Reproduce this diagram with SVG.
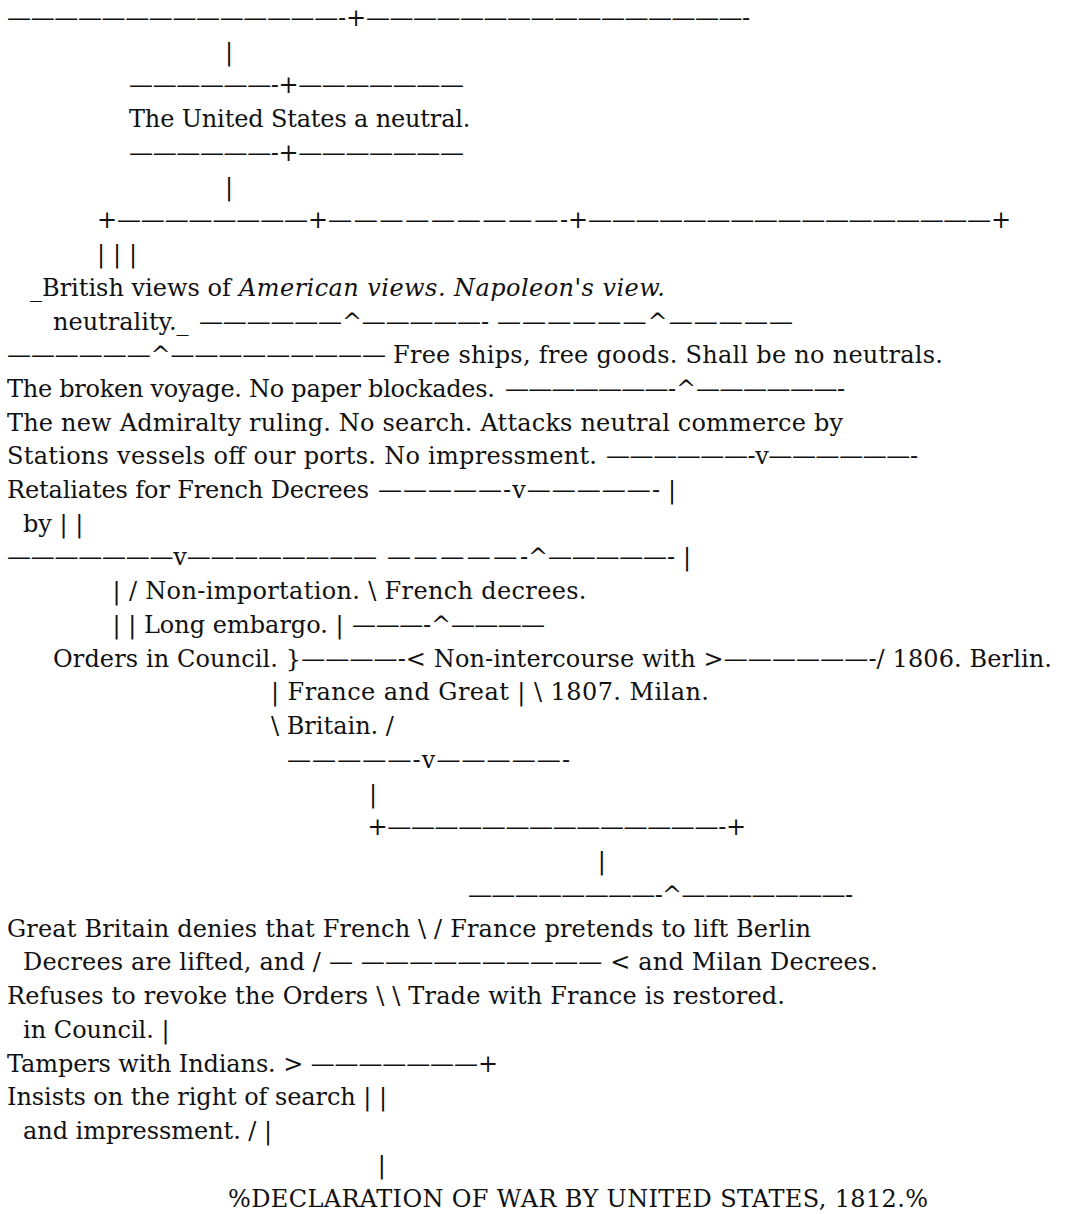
<svg xmlns="http://www.w3.org/2000/svg" width="1070" height="1214" viewBox="0 0 1070 1214">
<style>
text{font-family:"DejaVu Serif","Liberation Serif",serif;font-size:24px;fill:#111}
.it{font-style:italic}
</style>
<rect width="1070" height="1214" fill="#fff"/>
<g id="connectors">
<text x="7" y="26" textLength="339">——————————————-</text>
<text x="346" y="26">+</text>
<text x="366" y="26" textLength="384">————————————————-</text>
<text x="225" y="60">|</text>
<text x="129" y="93" textLength="335">——————-+———————</text>
<text x="129" y="161" textLength="335">——————-+———————</text>
<text x="225" y="195">|</text>
<text x="97" y="228">+</text>
<text x="117" y="228" textLength="191">————————</text>
<text x="308" y="228">+</text>
<text x="328" y="228" textLength="240">—————————-</text>
<text x="568" y="228">+</text>
<text x="588" y="228" textLength="403">—————————————————</text>
<text x="991" y="228">+</text>
<text x="97" y="262" textLength="40">| | |</text>
<text x="199" y="330" textLength="290">——————^—————-</text>
<text x="497" y="330" textLength="296">——————^—————</text>
<text x="7" y="363" textLength="379">——————^—————————</text>
<text x="505" y="397" textLength="171">———————-</text>
<text x="676" y="397">^</text>
<text x="696" y="397" textLength="149">——————-</text>
<text x="606" y="464" textLength="312">——————-v——————-</text>
<text x="378" y="498" textLength="282">—————-v—————-</text>
<text x="668" y="498">|</text>
<text x="7" y="565" textLength="370">———————v————————</text>
<text x="387" y="565" textLength="141">—————-</text>
<text x="528" y="565">^</text>
<text x="548" y="565" textLength="127">—————-</text>
<text x="683" y="565">|</text>
<text x="352" y="633" textLength="79">———-</text>
<text x="431" y="633">^</text>
<text x="451" y="633" textLength="94">————</text>
<text x="287" y="768" textLength="283">—————-v—————-</text>
<text x="369" y="802">|</text>
<text x="367.5" y="835" textLength="378.5">+——————————————-+</text>
<text x="597.7" y="869">|</text>
<text x="468" y="903" textLength="385">————————-^———————-</text>
<text x="377.7" y="1173">|</text>
</g>
<g id="node-neutral"><text x="129" y="127" textLength="341.5">The United States a neutral.</text></g>
<g id="node-views-heads">
<text x="30" y="296">_British views of</text>
<text x="239" y="296" class="it" textLength="426">American views. Napoleon's view.</text>
<text x="53" y="330">neutrality._</text>
</g>
<g id="node-free-ships"><text x="393" y="363" textLength="550">Free ships, free goods. Shall be no neutrals.</text></g>
<g id="node-views-list">
<text x="7" y="397" textLength="488">The broken voyage. No paper blockades.</text>
<text x="7" y="431" textLength="836">The new Admiralty ruling. No search. Attacks neutral commerce by</text>
<text x="7" y="464" textLength="590">Stations vessels off our ports. No impressment.</text>
<text x="7" y="498" textLength="362">Retaliates for French Decrees</text>
<text x="23" y="532">by | |</text>
</g>
<g id="node-measures">
<text x="112.5" y="599" textLength="474">| / Non-importation. \ French decrees.</text>
<text x="112.5" y="633">| | Long embargo. |</text>
<text x="53" y="667" textLength="999">Orders in Council. }————-&lt; Non-intercourse with &gt;——————-/ 1806. Berlin.</text>
<text x="271" y="700" textLength="438">| France and Great | \ 1807. Milan.</text>
<text x="271" y="734">\ Britain. /</text>
</g>
<g id="node-denials">
<text x="7" y="937" textLength="804">Great Britain denies that French \ / France pretends to lift Berlin</text>
<text x="23" y="970" textLength="855">Decrees are lifted, and / — —————————— &lt; and Milan Decrees.</text>
<text x="7" y="1004" textLength="778">Refuses to revoke the Orders \ \ Trade with France is restored.</text>
<text x="23" y="1038">in Council. |</text>
<text x="7" y="1072" textLength="491">Tampers with Indians. &gt; ———————+</text>
<text x="7" y="1105" textLength="380">Insists on the right of search | |</text>
<text x="23" y="1139" textLength="249">and impressment. / |</text>
</g>
<g id="node-declaration"><text x="228" y="1207" textLength="700">%DECLARATION OF WAR BY UNITED STATES, 1812.%</text></g>
</svg>
